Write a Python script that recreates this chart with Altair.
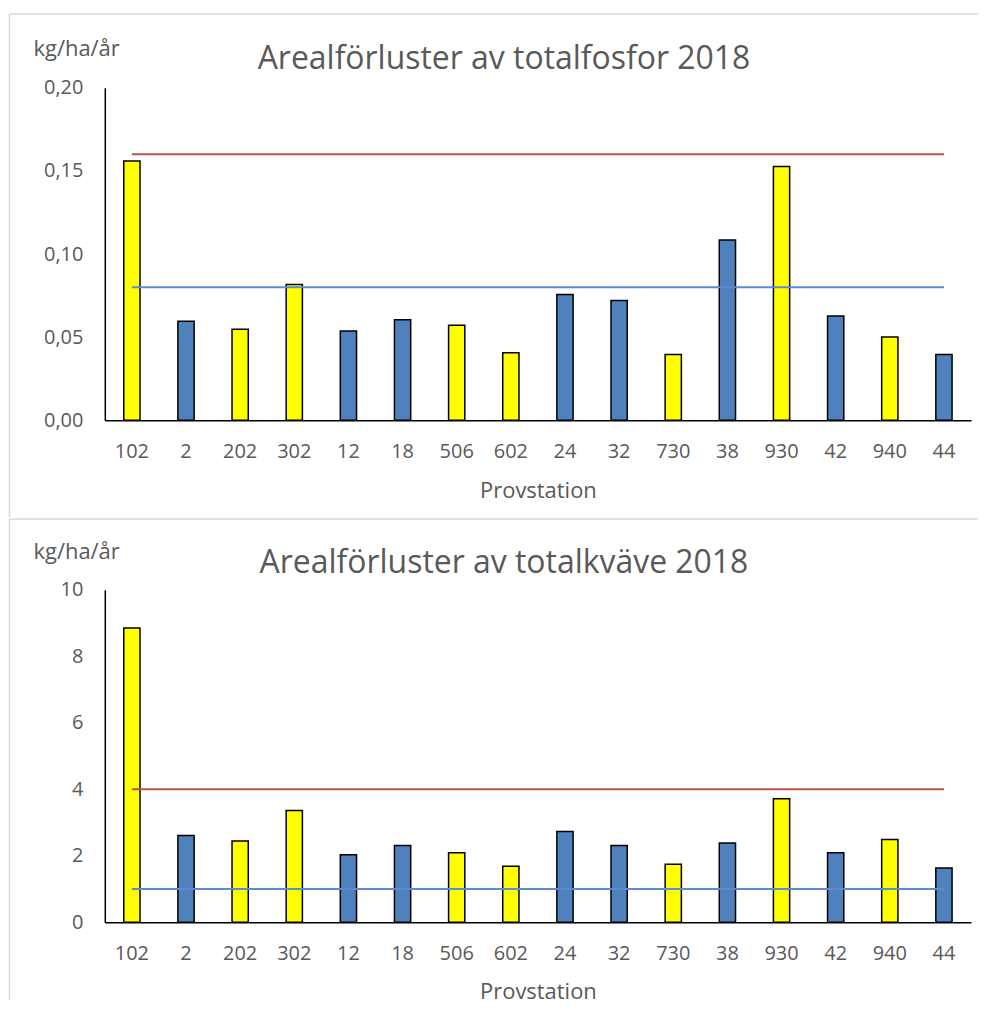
import altair as alt
import pandas as pd

stations = ["102", "2", "202", "302", "12", "18", "506", "602",
            "24", "32", "730", "38", "930", "42", "940", "44"]
kategori = ["gul", "blå", "gul", "gul", "blå", "blå", "gul", "gul",
            "blå", "blå", "gul", "blå", "gul", "blå", "gul", "blå"]
fosfor = [0.156, 0.0595, 0.0547, 0.0817, 0.0536, 0.0605, 0.0571, 0.0406,
          0.0757, 0.0721, 0.0396, 0.1085, 0.1526, 0.0627, 0.050, 0.0396]
kvave = [8.85, 2.61, 2.44, 3.36, 2.03, 2.31, 2.09, 1.68,
         2.73, 2.31, 1.74, 2.38, 3.71, 2.09, 2.49, 1.63]
fosfor_ref = [0.16, 0.08]   # röd, blå
kvave_ref = [4.0, 1.0]      # röd, blå
fosfor_ticks = [0, 0.05, 0.10, 0.15, 0.20]
kvave_ticks = [0, 2, 4, 6, 8, 10]
titles = ["Arealförluster av totalfosfor 2018", "Arealförluster av totalkväve 2018"]
y_title = "kg/ha/år"
x_title = "Provstation"

FONT = "Open Sans"
GREY = "#595959"
BORDER = "#D9D9D9"
W, H = 868, 333


def panel(values, refs, ticks, dmax, title, label_expr, top_off, bottom_ext, ytitle_y, title_y):
    df = pd.DataFrame({"station": stations, "kat": kategori, "value": values,
                       "red": [refs[0]] * len(stations), "blue": [refs[1]] * len(stations)})
    xenc = alt.X("station:N", sort=stations,
                 scale=alt.Scale(paddingInner=0.7, paddingOuter=0.35),
                 axis=alt.Axis(title=x_title, labelAngle=0, ticks=False, tickSize=0,
                               domainColor="black", domainWidth=1.5, grid=False,
                               labelFont=FONT, labelFontSize=20, labelColor=GREY,
                               labelPadding=21, titleFont=FONT, titleFontSize=22,
                               titleFontWeight="normal", titleColor=GREY,
                               titleY=77, titleBaseline="alphabetic"))
    yscale = alt.Scale(domain=[0, dmax], nice=False)
    bars = alt.Chart(df).mark_bar(stroke="black", strokeWidth=1.5).encode(
        x=xenc,
        y=alt.Y("value:Q", scale=yscale,
                axis=alt.Axis(title=y_title, values=ticks, labelExpr=label_expr,
                              ticks=False, tickSize=0, grid=False, domainColor="black",
                              domainWidth=1.5, labelFont=FONT, labelFontSize=20,
                              labelColor=GREY, labelPadding=22, titleFont=FONT,
                              titleFontSize=22, titleFontWeight="normal", titleColor=GREY,
                              titleAngle=0, titleX=-72, titleY=ytitle_y, titleAlign="left",
                              titleBaseline="alphabetic")),
        color=alt.Color("kat:N", scale=alt.Scale(domain=["gul", "blå"],
                                                 range=["#FFFF00", "#4F81BD"]), legend=None),
    )
    red = alt.Chart(df).mark_line(color="#C0504D", strokeWidth=2).encode(
        x=alt.X("station:N", sort=stations), y=alt.Y("red:Q", scale=yscale))
    blue = alt.Chart(df).mark_line(color="#5B8BD0", strokeWidth=2).encode(
        x=alt.X("station:N", sort=stations), y=alt.Y("blue:Q", scale=yscale))
    tdf = pd.DataFrame({"t": [title]})
    ttl = alt.Chart(tdf).mark_text(font=FONT, fontSize=32, color=GREY,
                                   baseline="alphabetic", align="center").encode(
        x=alt.value(400), y=alt.value(title_y), text="t:N")
    one = pd.DataFrame({"a": [0]})
    top_rule = alt.Chart(one).mark_rule(color=BORDER, strokeWidth=1.5).encode(
        x=alt.value(-95.5), x2=alt.value(875), y=alt.value(top_off))
    left_rule = alt.Chart(one).mark_rule(color=BORDER, strokeWidth=1.5).encode(
        x=alt.value(-95.5), y=alt.value(top_off), y2=alt.value(bottom_ext))
    return alt.layer(top_rule, left_rule, bars, red, blue, ttl).properties(width=W, height=H)


p1 = panel(fosfor, fosfor_ref, fosfor_ticks, 0.2, titles[0],
           "replace(format(datum.value, '.2f'), '.', ',')", -74, 430, -32, -19)
p2 = panel(kvave, kvave_ref, kvave_ticks, 10, titles[1],
           "format(datum.value, 'd')", -71, 411, -31, -17)

chart = alt.vconcat(p1, p2, spacing=0).properties(
    padding={"left": 0, "top": 4, "right": 0, "bottom": 0}
).configure_view(stroke=None)

chart.save("out.html", embed_options={"renderer": "svg", "actions": False})
